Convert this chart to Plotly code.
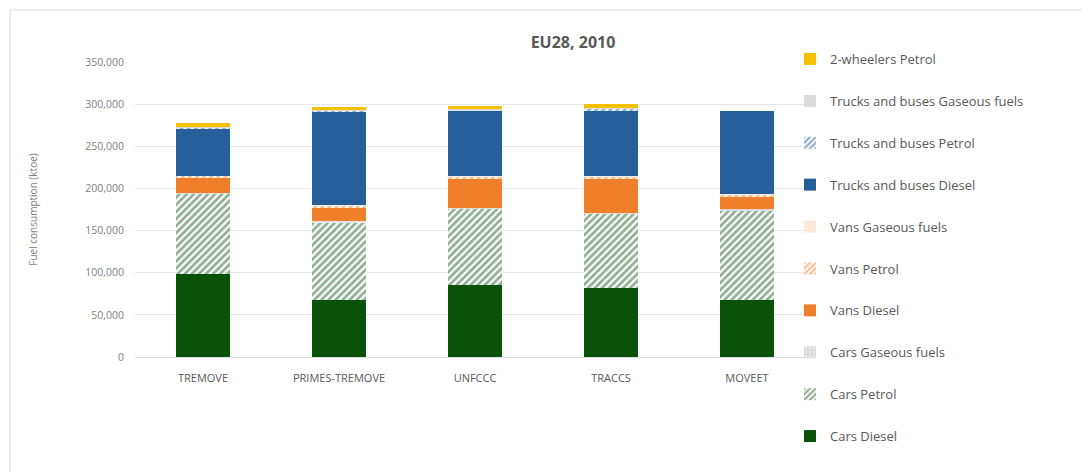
import plotly.graph_objects as go

categories = ["TREMOVE", "PRIMES-TREMOVE", "UNFCCC", "TRACCS", "MOVEET"]

cars_diesel = [99000, 67400, 85100, 81900, 67400]
cars_petrol = [94500, 91300, 90600, 88000, 107000]
cars_gaseous = [500, 3000, 1500, 1500, 1500]
vans_diesel = [19000, 15500, 34000, 40000, 13500]
vans_petrol = [2000, 2800, 3000, 3000, 3500]
vans_gaseous = [300, 300, 300, 300, 300]
trucks_diesel = [56000, 111200, 78000, 78000, 99000]
trucks_petrol = [500, 500, 500, 2000, 0]
trucks_gaseous = [1500, 500, 1000, 1000, 0]
two_wheelers_petrol = [4000, 4000, 4000, 4500, 0]

y_ticks = [0, 50000, 100000, 150000, 200000, 250000, 300000, 350000]

series = [
    ("Cars Diesel", cars_diesel, "#0a5209", None, None),
    ("Cars Petrol", cars_petrol, "#ffffff", "/", "#24622a"),
    ("Cars Gaseous fuels", cars_gaseous, "#e8e8e8", ".", "#c8c8c8"),
    ("Vans Diesel", vans_diesel, "#f07f2c", None, None),
    ("Vans Petrol", vans_petrol, "#ffffff", "/", "#f07f2c"),
    ("Vans Gaseous fuels", vans_gaseous, "#fbe9dc", None, None),
    ("Trucks and buses Diesel", trucks_diesel, "#245f99", None, None),
    ("Trucks and buses Petrol", trucks_petrol, "#ffffff", "/", "#245f99"),
    ("Trucks and buses Gaseous fuels", trucks_gaseous, "#dcdcdc", None, None),
    ("2-wheelers Petrol", two_wheelers_petrol, "#f5c000", None, None),
]

# page is offset 8 px by the body margin; compensate
W, H = 1082, 464
L, R, T, B = 127, 275, 54, 115
PW, PH = W - L - R, H - T - B

fig = go.Figure()
n = len(series)
for i, (name, vals, color, shape, fg) in enumerate(series):
    marker = dict(color=color, line=dict(width=0))
    if shape:
        marker["pattern"] = dict(shape=shape, fgcolor=fg, bgcolor=color, size=5, solidity=0.55)
    fig.add_trace(go.Bar(
        name=name, x=categories, y=vals, marker=marker,
        legendgroup=name, legendrank=n - i,
    ))

fig.update_layout(
    barmode="stack",
    bargap=0.6,
    width=W, height=H,
    margin=dict(l=L, r=R, t=T, b=B),
    paper_bgcolor="white",
    plot_bgcolor="white",
    font=dict(family="Open Sans, sans-serif", color="#595959"),
    title=dict(text="<b>EU28, 2010</b>", x=565 / W, xanchor="center",
               y=1 - 34 / H, yanchor="middle",
               font=dict(size=16, color="#595959")),
    legend=dict(
        x=(782 - L) / PW, xanchor="left",
        y=(H - B - 36) / PH, yanchor="top",
        traceorder="grouped",
        tracegroupgap=22,
        font=dict(size=13, color="#595959"),
        itemwidth=30,
        maxheight=1,
        bgcolor="rgba(0,0,0,0)",
    ),
    xaxis=dict(
        tickfont=dict(size=11, color="#595959"),
        showline=True, linecolor="#d9d9d9", linewidth=1,
        ticks="",
        ticklabelstandoff=11,
    ),
    yaxis=dict(
        range=[0, 350000],
        tickvals=y_ticks,
        tickformat=",",
        tickfont=dict(size=10.5, color="#7f7f7f"),
        gridcolor="#e6e6e6",
        zeroline=False,
        ticklabelstandoff=10,
        title=dict(text="Fuel consumption (ktoe)", font=dict(size=10, color="#7f7f7f"), standoff=45),
    ),
    shapes=[
        dict(type="line", xref="paper", yref="paper",
             x0=(2 - L) / PW, x1=(W + 5 - L) / PW,
             y0=(H - B - 2) / PH, y1=(H - B - 2) / PH,
             line=dict(color="#d9d9d9", width=1)),
        dict(type="line", xref="paper", yref="paper",
             x0=(2 - L) / PW, x1=(2 - L) / PW,
             y0=(H - B - 2) / PH, y1=(H - B - H - 10) / PH,
             line=dict(color="#d9d9d9", width=1)),
    ],
)

fig.write_html("out.html")
